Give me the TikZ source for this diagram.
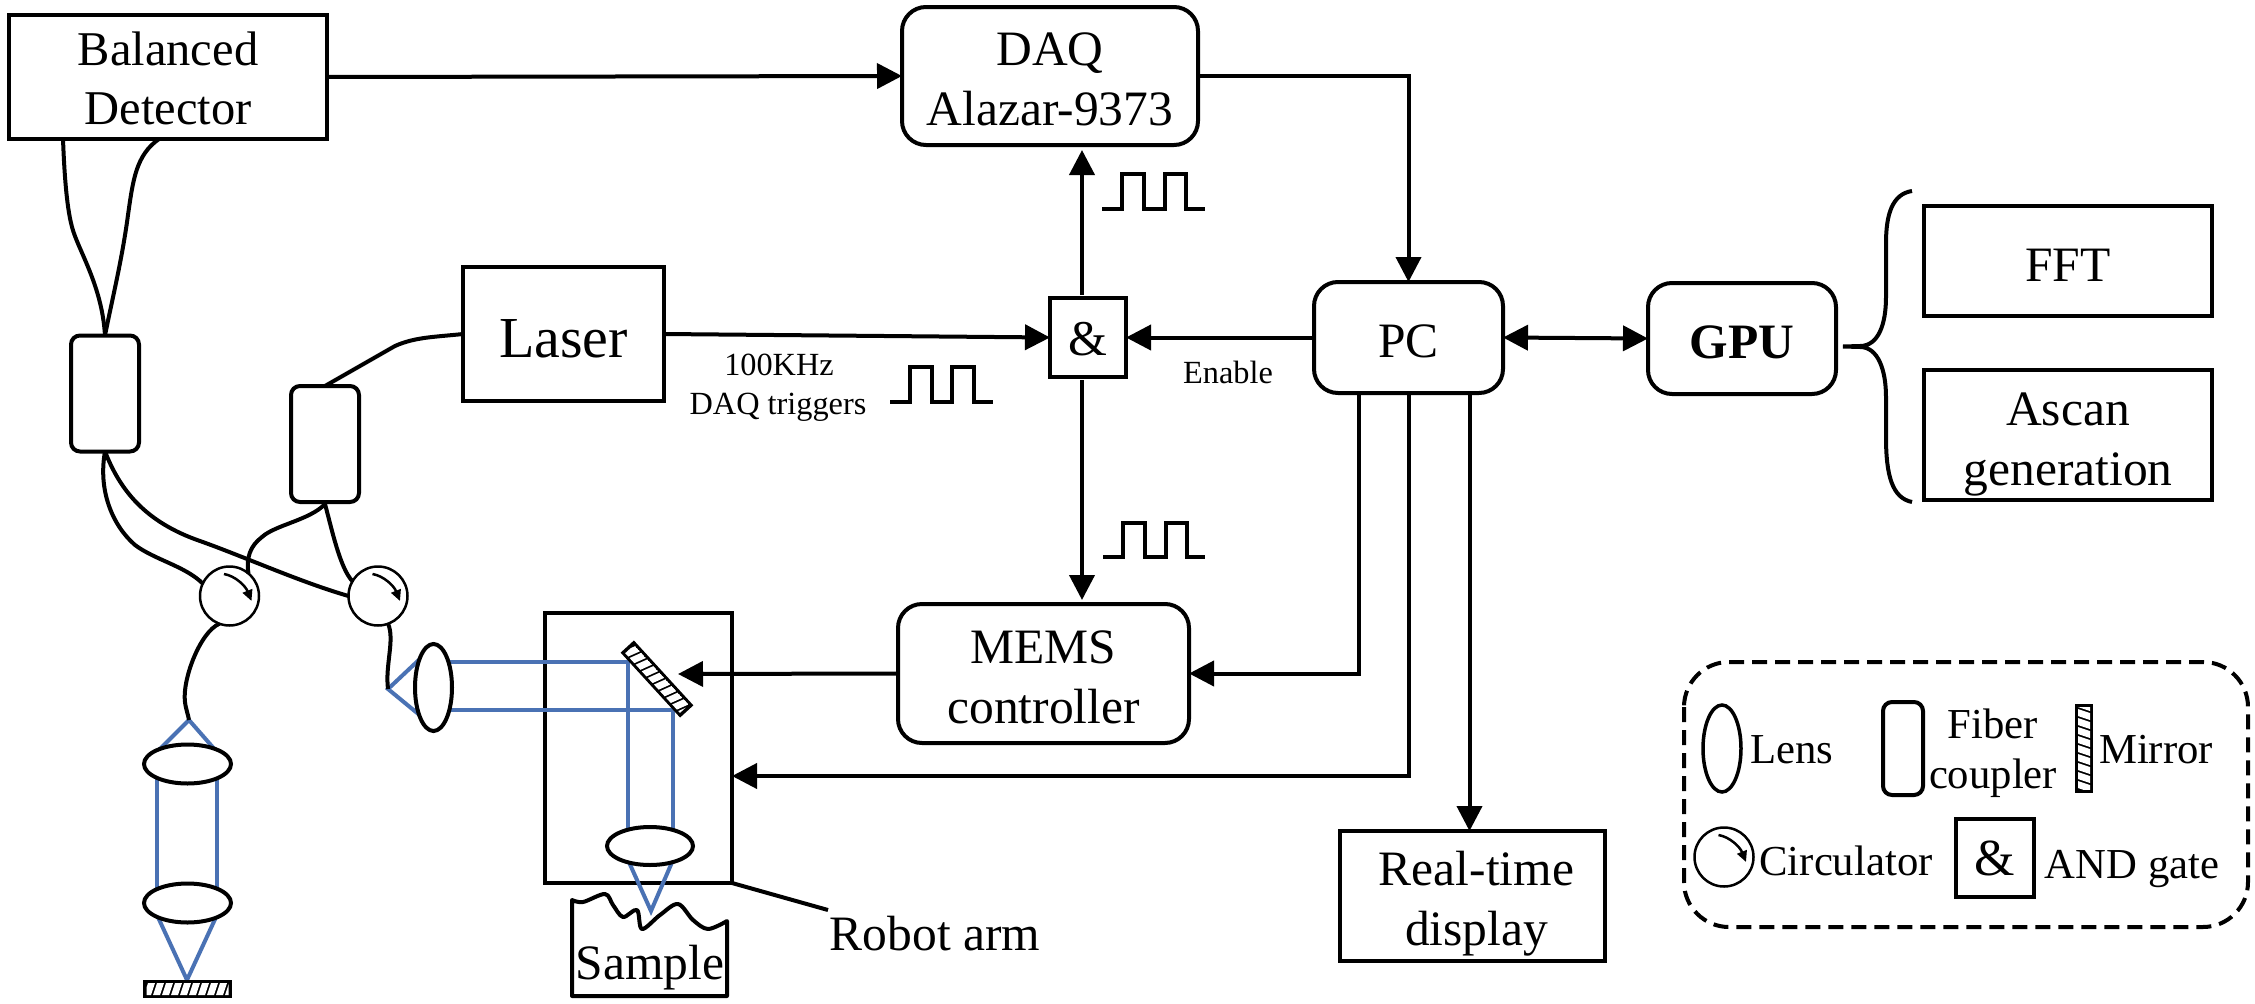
\documentclass[tikz,border=0pt]{standalone}
\usepackage{fontspec}
\setmainfont{Liberation Serif}
\usetikzlibrary{arrows.meta,shapes.geometric}
\definecolor{beam}{HTML}{4A72B4}
% first-line strut: pushes a node's text down by #1 pt
\newcommand{\dn}[1]{\rule{0pt}{\dimexpr33pt+2\dimexpr#1pt\relax\relax}}
\tikzset{
  box/.style={draw,line width=4pt,inner sep=0pt,outer sep=0pt,align=center,fill=white,font=\fontsize{49.5}{60}\selectfont},
  rbox/.style={box,rounded corners=24pt},
  coupler/.style={draw,line width=4pt,inner sep=0pt,outer sep=0pt,rounded corners=9pt,minimum width=68pt,minimum height=116pt},
  lens/.style={draw,ellipse,line width=4pt,inner sep=0pt,outer sep=0pt,fill=white},
  circ/.style={draw,circle,line width=2.5pt,inner sep=0pt,outer sep=0pt,minimum size=59pt},
  fiber/.style={line width=4pt},
  wire/.style={line width=4pt},
  arr/.style={line width=4pt,-{Triangle[length=25pt,width=25pt]}},
  biarr/.style={line width=4pt,{Triangle[length=25pt,width=25pt]}-{Triangle[length=25pt,width=25pt]}},
  ray/.style={line width=4pt,beam},
  pulse/.style={line width=3.5pt},
  circarr/.style={line width=2.5pt,-{Triangle[length=11pt,width=10pt]}},
  txt/.style={anchor=base,inner sep=0pt,font=\fontsize{49.5}{60}\selectfont},
  small/.style={anchor=base,inner sep=0pt,font=\fontsize{32.3}{40}\selectfont},
  leg/.style={anchor=base,inner sep=0pt,font=\fontsize{42.7}{50}\selectfont},
  pics/mirrorbar/.style={code={
    \fill[black] (-#1/2,-9) rectangle (#1/2,9);
    \begin{scope}
      \clip (-#1/2+3.5,-6) rectangle (#1/2-3.5,6);
      \foreach \k in {0,...,12}{
        \fill[white] ({-#1/2+\k*9-4},-6) -- ++(7,0) -- ++(-4,12) -- ++(-7,0) -- cycle;
      }
    \end{scope}
  }}
}
\begin{document}
\begin{tikzpicture}[x=1pt,y=-1pt]
\useasboundingbox (0,0) rectangle (2255,1004);
\fill[white] (0,0) rectangle (2255,1004);

% robot arm frame first, beams cross it
\node[box,fill=none,minimum width=187pt,minimum height=270pt] (robot) at (638.5,748) {};

% blocks
\node[box,minimum width=318pt,minimum height=124pt,font=\fontsize{48.5}{59}\selectfont] (bd) at (168,77) {\dn{2}Balanced\\Detector};
\node[rbox,minimum width=296pt,minimum height=138pt] (daq) at (1050,76) {\dn{3}DAQ\\Alazar-9373};
\node[rbox,minimum width=189pt,minimum height=111pt] (pc) at (1408.5,337.5) {\dn{4}PC};
\node[rbox,minimum width=188pt,minimum height=111pt,font=\fontsize{49.5}{60}\selectfont\bfseries] (gpu) at (1742,338.5) {\dn{4}GPU};
\node[box,minimum width=288pt,minimum height=110pt] (fft) at (2068,261) {\dn{4}FFT};
\node[box,minimum width=288pt,minimum height=130pt] (asc) at (2068,435) {\dn{9}Ascan\\generation};
\node[box,minimum width=201pt,minimum height=134pt,font=\fontsize{58}{64}\selectfont] (laser) at (563.5,334) {\rule{0pt}{48pt}Laser};
\node[box,minimum width=76pt,minimum height=79pt,font=\fontsize{50}{58}\selectfont] (and) at (1088,337.5) {\dn{2}\&};
\node[rbox,minimum width=291pt,minimum height=139pt] (mems) at (1043.5,673.5) {\dn{3.5}MEMS\\controller};
\node[box,minimum width=265pt,minimum height=130pt] (rt) at (1472.5,896) {\dn{8.5}\hspace*{8pt}Real-time\\\hspace*{8pt}display};

% fibre couplers and circulators
\node[coupler] (cp1) at (105,393.5) {};
\node[coupler] (cp2) at (325,444) {};
\node[circ] (cA) at (229.5,596) {};
\node[circ] (cB) at (378,596) {};
\draw[circarr,shift={(cA.center)}] (-5.5,-22) .. controls (6,-20) and (16,-10) .. (22,5);
\draw[circarr,shift={(cB.center)}] (-5.5,-22) .. controls (6,-20) and (16,-10) .. (22,5);

% sample
\draw[wire,line join=round] plot[smooth,tension=0.55] coordinates {(572,900) (583,902) (605,894) (613,905) (623,917) (637,910) (642,929) (660,915) (678,904) (693,920) (708,929) (727,921)} -- (727,996) -- (572,996) -- cycle;
\node[txt] (tsample) at (650,979) {Sample};

% beams
\coordinate (apexA) at (189,720);
\coordinate (apexB) at (388,689);
\coordinate (focusM) at (187,980);
\coordinate (focusS) at (651,911);
\draw[ray] (157,752) -- (apexA) -- (217,752);
\draw[ray] (157,770) -- (157,895);
\draw[ray] (217,770) -- (217,895);
\draw[ray] (157,915) -- (focusM) -- (217,915);
\draw[ray] (422,657) -- (apexB) -- (422,717);
\draw[ray] (445,662) -- (628,662) -- (628,835);
\draw[ray] (445,710) -- (673,710) -- (673,835);
\draw[ray] (628,860) -- (focusS) -- (673,860);

% lenses
\node[lens,minimum width=87pt,minimum height=39pt] (l1) at (187.5,764) {};
\node[lens,minimum width=87pt,minimum height=39pt] (l2) at (187.5,903) {};
\node[lens,minimum width=37pt,minimum height=87pt] (l3) at (433.5,687.5) {};
\node[lens,minimum width=86pt,minimum height=38pt] (l4) at (650,846) {};

% mirrors
\pic at (187.5,989) {mirrorbar=89};
\pic[rotate=-47.5] at (657,679) {mirrorbar=88};

% fibres
\draw[fiber] ([xshift=-105pt]bd.south) .. controls (64,165) and (66,205) .. (72,227) .. controls (78,250) and (102,285) .. (cp1.north);
\draw[fiber] ([xshift=-9pt]bd.south) .. controls (136,155) and (133,180) .. (128,215) .. controls (122,260) and (112,300) .. (cp1.north);
\draw[fiber] (laser.west) .. controls (435,337) and (415,337) .. (395,346) -- (cp2.north);
\draw[fiber] (cp1.south) .. controls (98,490) and (112,525) .. (135,545) .. controls (155,560) and (185,566) .. (cA.155);
\draw[fiber] (cp1.south) .. controls (120,490) and (145,522) .. (200,541) .. controls (245,557) and (300,582) .. (cB.west);
\draw[fiber] ([yshift=-2pt]cp2.south) .. controls (310,520) and (275,525) .. (262,537) .. controls (250,546) and (246,558) .. (cA.50);
\draw[fiber] ([yshift=-2pt]cp2.south) .. controls (332,530) and (340,568) .. (cB.150);
\draw[fiber] (cA.-110) .. controls (200,632) and (182,680) .. (185,702) .. controls (186,710) and (188,714) .. (apexA);
\draw[fiber] (cB.-70) .. controls (395,640) and (385,665) .. (apexB);

% signals
\draw[arr] (bd.east) -- (daq.west);
\draw[arr] (daq.east) -| (pc.north);
\draw[biarr] (pc.east) -- (gpu.west);
\draw[arr] (laser.east) -- (and.west);
\draw[arr] (pc.west) -- (and.east);
\draw[arr,shorten <=3pt,shorten >=5pt] ([xshift=-6pt]and.north) -- ([xshift=-6pt]and.north |- daq.south);
\draw[arr,shorten <=3pt,shorten >=4pt] ([xshift=-6pt]and.south) -- ([xshift=-6pt]and.south |- mems.north);
\coordinate (mirrortip) at (678,674);
\draw[arr] (mems.west) -- (mirrortip);
\draw[arr] ([xshift=-50pt]pc.south) |- (mems.east);
\draw[arr] (pc.south) |- ([yshift=-28pt]robot.east);
\draw[arr] ([xshift=61pt]pc.south) -- ([xshift=61pt]pc.south |- rt.north);

% pulses
\draw[pulse] (1102,209) -- (1122,209) -- (1122,174) -- (1144,174) -- (1144,209) -- (1165,209) -- (1165,174) -- (1186,174) -- (1186,209) -- (1205,209);
\draw[pulse] (890,402) -- (910,402) -- (910,367) -- (932,367) -- (932,402) -- (952,402) -- (952,367) -- (974,367) -- (974,402) -- (993,402);
\draw[pulse] (1103,557) -- (1123,557) -- (1123,523) -- (1145,523) -- (1145,557) -- (1166,557) -- (1166,523) -- (1187,523) -- (1187,557) -- (1205,557);

% labels
\node[small] (t100) at (779,375) {100KHz};
\node[small] (tdaq) at (778,414) {DAQ triggers};
\node[small] (ten) at (1228,383) {Enable};

% brace
\draw[wire] (1912,191) .. controls (1892,194) and (1886,215) .. (1886,243) -- (1886,297) .. controls (1886,325) and (1878,346) .. (1860,346) -- (1843,346.5) -- (1860,347) .. controls (1878,347) and (1886,370) .. (1886,397) -- (1886,437) .. controls (1886,475) and (1892,498) .. (1912,502);

% robot label
\coordinate (robottip) at (828,910);
\draw[wire] (robot.south east) -- (robottip);
\node[txt] (trobot) at (935,950) {Robot arm};

% legend
\draw[line width=4pt,dash pattern=on 15pt off 8pt,rounded corners=45pt] (1684,662) rectangle (2248,927);
\node[lens,line width=3.5pt,minimum width=38pt,minimum height=87pt] (ll) at (1722,748.5) {};
\node[leg] (tl) at (1792,763) {Lens};
\node[coupler,minimum width=40pt,minimum height=93pt] (lc) at (1903,748.5) {};
\node[leg] (tf1) at (1993,738) {Fiber};
\node[leg] (tf2) at (1993,788) {coupler};
\pic[rotate=90] at (2084,748.5) {mirrorbar=89};
\node[leg] (tm) at (2156,763) {Mirror};
\node[circ] (lcirc) at (1724,857) {};
\draw[circarr,shift={(lcirc.center)}] (-5.5,-22) .. controls (6,-20) and (16,-10) .. (22,5);
\node[leg] (tc) at (1846,875) {Circulator};
\node[box,minimum width=78pt,minimum height=78pt,font=\fontsize{52}{58}\selectfont] (land) at (1995,858) {\&};
\node[leg] (ta) at (2132,878) {AND gate};
\end{tikzpicture}
\end{document}
